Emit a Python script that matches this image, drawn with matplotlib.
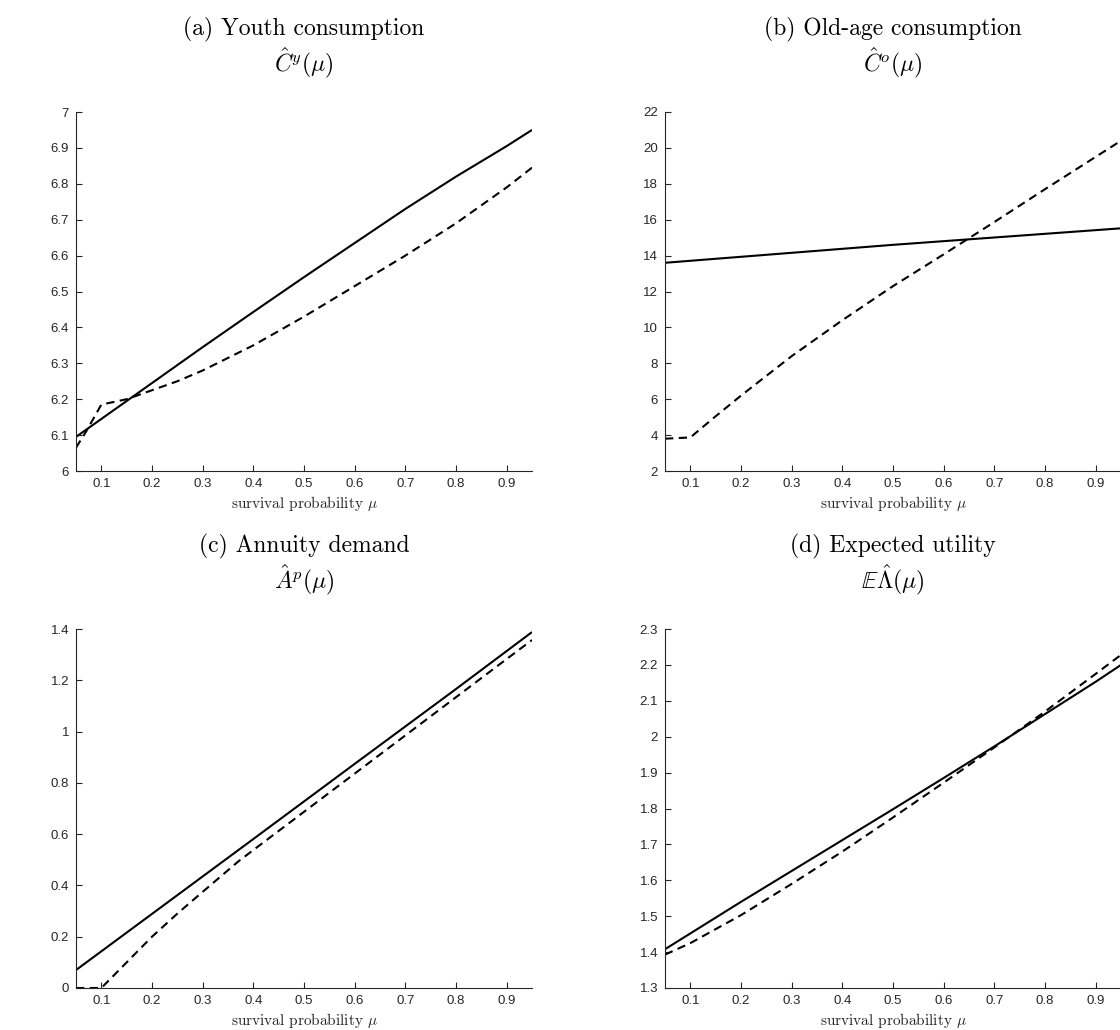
import numpy as np
import matplotlib
matplotlib.use('Agg')
import matplotlib.pyplot as plt

plt.rcParams['mathtext.fontset'] = 'cm'
plt.rcParams['font.family'] = ['Liberation Sans', 'DejaVu Sans']

# survival probability grid points
mu_a_solid = [0.05, 0.1, 0.2, 0.3, 0.4, 0.5, 0.6, 0.7, 0.8, 0.9, 0.95]
cy_solid = [6.095, 6.145, 6.245, 6.345, 6.443, 6.54, 6.635, 6.73, 6.82, 6.905, 6.95]
mu_a_dash = [0.05, 0.07, 0.1, 0.15, 0.2, 0.25, 0.3, 0.4, 0.5, 0.6, 0.7, 0.8, 0.9, 0.95]
cy_dash = [6.065, 6.11, 6.185, 6.2, 6.225, 6.25, 6.28, 6.35, 6.43, 6.515, 6.6, 6.69, 6.79, 6.845]

mu_b_solid = [0.05, 0.5, 0.95]
co_solid = [13.6, 14.6, 15.52]
mu_b_dash = [0.05, 0.1, 0.15, 0.2, 0.25, 0.3, 0.4, 0.5, 0.6, 0.65, 0.7, 0.8, 0.9, 0.95]
co_dash = [3.8, 3.87, 5.05, 6.2, 7.3, 8.4, 10.4, 12.3, 14.07, 14.97, 15.87, 17.7, 19.5, 20.4]

mu_c_solid = [0.05, 0.2, 0.4, 0.6, 0.8, 0.95]
ap_solid = [0.07, 0.289, 0.581, 0.874, 1.166, 1.388]
mu_c_dash = [0.05, 0.1, 0.12, 0.15, 0.2, 0.25, 0.3, 0.37, 0.4, 0.5, 0.6, 0.7, 0.8, 0.9, 0.95]
ap_dash = [0.0, 0.0, 0.04, 0.1, 0.2, 0.29, 0.375, 0.493, 0.538, 0.687, 0.836, 0.985, 1.134, 1.283, 1.357]

mu_d = [0.05, 0.1, 0.2, 0.3, 0.4, 0.5, 0.6, 0.7, 0.8, 0.9, 0.95]
eu_solid = [1.408, 1.452, 1.540, 1.626, 1.712, 1.798, 1.885, 1.973, 2.063, 2.153, 2.2]
eu_dash = [1.393, 1.425, 1.503, 1.59, 1.68, 1.775, 1.872, 1.97, 2.07, 2.175, 2.228]

titles = ['(a) Youth consumption', '(b) Old-age consumption',
          '(c) Annuity demand', '(d) Expected utility']
symbols = [r'$\hat{C}^{y}(\mu)$', r'$\hat{C}^{o}(\mu)$',
           r'$\hat{A}^{p}(\mu)$', r'$\mathbb{E}\hat{\Lambda}(\mu)$']
xticks = [0.1, 0.2, 0.3, 0.4, 0.5, 0.6, 0.7, 0.8, 0.9]

W, H = 1120, 1030
fig = plt.figure(figsize=(W / 100, H / 100), dpi=100)

# (left, top, width, height) in pixels
boxes = [(76, 112, 456, 359), (665, 112, 456, 359),
         (76, 629, 456, 359), (665, 629, 456, 359)]
panels = [
    (mu_a_solid, cy_solid, mu_a_dash, cy_dash, (6, 7), np.arange(6, 7.01, 0.1)),
    (mu_b_solid, co_solid, mu_b_dash, co_dash, (2, 22), np.arange(2, 22.1, 2)),
    (mu_c_solid, ap_solid, mu_c_dash, ap_dash, (0, 1.4), np.arange(0, 1.41, 0.2)),
    (mu_d, eu_solid, mu_d, eu_dash, (1.3, 2.3), np.arange(1.3, 2.31, 0.1)),
]

for i, (box, p) in enumerate(zip(boxes, panels)):
    l, t, w, h = box
    ax = fig.add_axes([l / W, 1 - (t + h) / H, w / W, h / H])
    xs, ys, xd, yd, ylim, yt = p
    ax.plot(xs, ys, color='black', lw=1.5, solid_capstyle='butt')
    ax.plot(xd, yd, color='black', lw=1.5, dashes=(4, 2.6))
    ax.set_xlim(0.05, 0.95)
    ax.set_ylim(*ylim)
    ax.set_xticks(xticks)
    ax.set_xticklabels(['%g' % v for v in xticks])
    ax.set_yticks(yt)
    ax.set_yticklabels(['%g' % round(v, 2) for v in yt])
    for s in ['top', 'right']:
        ax.spines[s].set_visible(False)
    for s in ['left', 'bottom']:
        ax.spines[s].set_color('#262626')
        ax.spines[s].set_linewidth(0.8)
    ax.tick_params(direction='in', length=4.5, width=0.8, colors='#262626',
                   labelsize=9.5, pad=5)
    ax.set_xlabel(r'survival probability $\mu$', fontfamily='cmr10', fontsize=11,
                  labelpad=3)
    ax.xaxis.label.set_color('#262626')

    cx = (l + 228) / W
    fig.text(cx, 1 - (t - 77) / H, titles[i], fontfamily='cmr10', fontsize=17,
             ha='center', va='baseline')
    fig.text(cx, 1 - (t - 41) / H, symbols[i], fontsize=17,
             ha='center', va='baseline')

fig.savefig('out.png', dpi=100)
